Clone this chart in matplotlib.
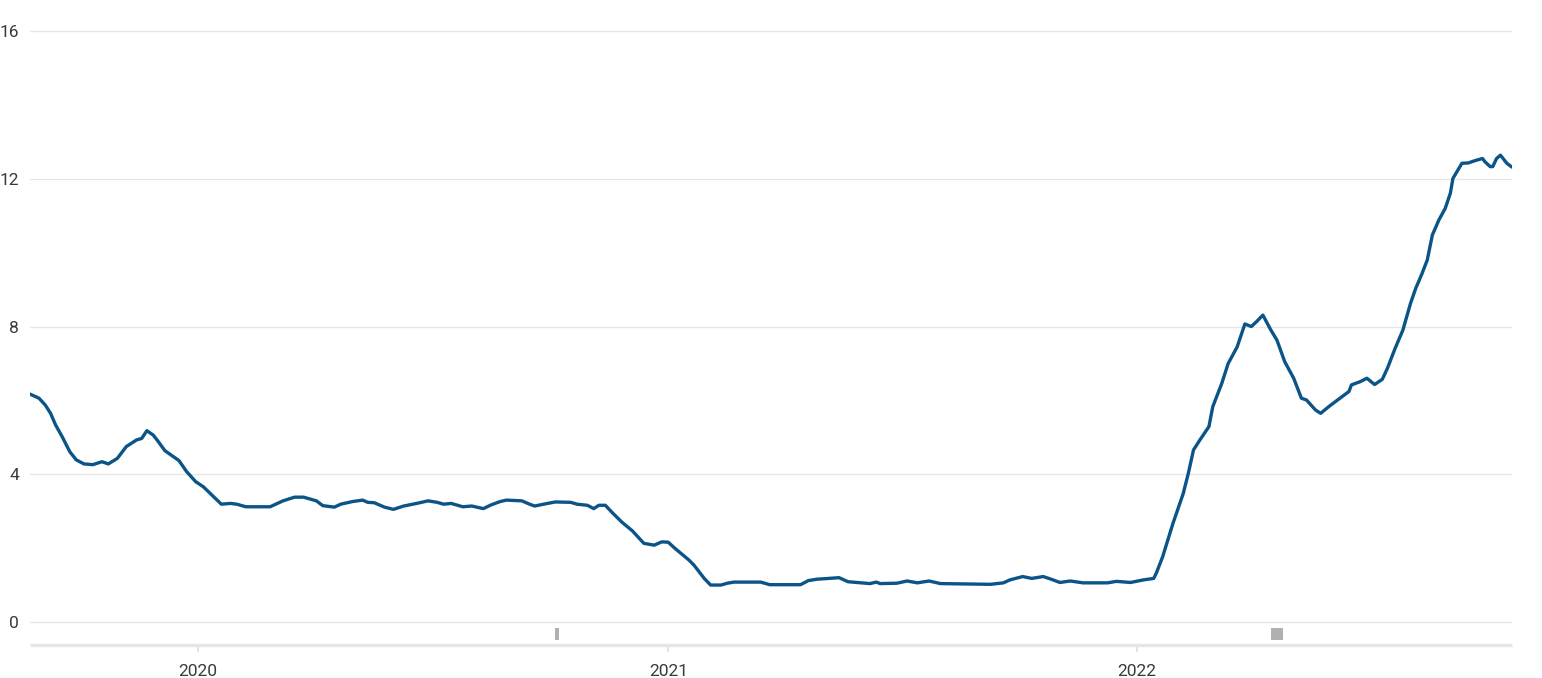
import numpy as np
import matplotlib
matplotlib.use("Agg")
import matplotlib.pyplot as plt
import matplotlib.dates as mdates

plt.rcParams['font.family'] = ['Roboto', 'DejaVu Sans']

# series (date, value)
dates = [
    "2019-08-23", "2019-08-30", "2019-09-04", "2019-09-08", "2019-09-12", "2019-09-17",
    "2019-09-23", "2019-09-28", "2019-10-04", "2019-10-11", "2019-10-18", "2019-10-23",
    "2019-10-30", "2019-11-06", "2019-11-14", "2019-11-18", "2019-11-22", "2019-11-27",
    "2019-12-01", "2019-12-06", "2019-12-13", "2019-12-17", "2019-12-23", "2019-12-30",
    "2020-01-05", "2020-01-13", "2020-01-19", "2020-01-26", "2020-01-31", "2020-02-07",
    "2020-02-16", "2020-02-26", "2020-03-07", "2020-03-16", "2020-03-23", "2020-04-02",
    "2020-04-07", "2020-04-16", "2020-04-21", "2020-04-30", "2020-05-08", "2020-05-12",
    "2020-05-17", "2020-05-25", "2020-06-01", "2020-06-09", "2020-06-19", "2020-06-28",
    "2020-07-05", "2020-07-10", "2020-07-16", "2020-07-25", "2020-08-01", "2020-08-10",
    "2020-08-16", "2020-08-23", "2020-08-28", "2020-09-09", "2020-09-15", "2020-09-19",
    "2020-09-26", "2020-10-05", "2020-10-17", "2020-10-22", "2020-10-30", "2020-11-04",
    "2020-11-08", "2020-11-13", "2020-11-19", "2020-11-26", "2020-12-04", "2020-12-13",
    "2020-12-21", "2020-12-27", "2021-01-01", "2021-01-06", "2021-01-17", "2021-01-21",
    "2021-01-29", "2021-02-03", "2021-02-11", "2021-02-16", "2021-02-21", "2021-03-14",
    "2021-03-21", "2021-04-14", "2021-04-20", "2021-04-27", "2021-05-02", "2021-05-14",
    "2021-05-21", "2021-05-31", "2021-06-07", "2021-06-12", "2021-06-15", "2021-06-28",
    "2021-07-06", "2021-07-14", "2021-07-23", "2021-08-01", "2021-08-19", "2021-09-09",
    "2021-09-19", "2021-09-24", "2021-10-04", "2021-10-11", "2021-10-20", "2021-10-26",
    "2021-11-02", "2021-11-10", "2021-11-20", "2021-12-09", "2021-12-16", "2021-12-27",
    "2022-01-06", "2022-01-14", "2022-01-16", "2022-01-21", "2022-01-29", "2022-02-06",
    "2022-02-10", "2022-02-14", "2022-02-19", "2022-02-26", "2022-03-01", "2022-03-08",
    "2022-03-13", "2022-03-20", "2022-03-26", "2022-03-31", "2022-04-04", "2022-04-09",
    "2022-04-15", "2022-04-20", "2022-04-26", "2022-05-03", "2022-05-09", "2022-05-13",
    "2022-05-20", "2022-05-24", "2022-05-31", "2022-06-08", "2022-06-15", "2022-06-17",
    "2022-06-24", "2022-06-29", "2022-07-05", "2022-07-11", "2022-07-15", "2022-07-21",
    "2022-07-27", "2022-08-02", "2022-08-06", "2022-08-11", "2022-08-15", "2022-08-19",
    "2022-08-24", "2022-08-29", "2022-09-02", "2022-09-04", "2022-09-11", "2022-09-16",
    "2022-09-21", "2022-09-27", "2022-09-29", "2022-10-03", "2022-10-05", "2022-10-08",
    "2022-10-11", "2022-10-16", "2022-10-19", "2022-10-20",
]
values = [
    6.17, 6.06, 5.87, 5.65, 5.33, 5.02,
    4.61, 4.39, 4.28, 4.26, 4.34, 4.28,
    4.43, 4.75, 4.93, 4.97, 5.18, 5.06,
    4.88, 4.64, 4.47, 4.37, 4.07, 3.80,
    3.66, 3.39, 3.19, 3.21, 3.19, 3.12,
    3.12, 3.12, 3.28, 3.38, 3.38, 3.28,
    3.15, 3.11, 3.19, 3.26, 3.30, 3.24,
    3.23, 3.11, 3.05, 3.14, 3.21, 3.28,
    3.24, 3.19, 3.21, 3.12, 3.14, 3.07,
    3.17, 3.26, 3.30, 3.28, 3.19, 3.14,
    3.19, 3.25, 3.24, 3.19, 3.16, 3.07,
    3.16, 3.16, 2.94, 2.70, 2.47, 2.13,
    2.08, 2.17, 2.16, 2.00, 1.68, 1.54,
    1.18, 1.00, 1.00, 1.05, 1.08, 1.08,
    1.01, 1.01, 1.12, 1.16, 1.17, 1.20,
    1.09, 1.06, 1.04, 1.08, 1.04, 1.05,
    1.11, 1.06, 1.11, 1.04, 1.03, 1.02,
    1.06, 1.14, 1.23, 1.18, 1.23, 1.16,
    1.07, 1.11, 1.06, 1.06, 1.10, 1.07,
    1.14, 1.18, 1.32, 1.77, 2.67, 3.48,
    4.03, 4.66, 4.93, 5.29, 5.83, 6.46,
    7.00, 7.45, 8.07, 8.00, 8.13, 8.31,
    7.92, 7.63, 7.05, 6.60, 6.06, 6.01,
    5.74, 5.65, 5.85, 6.06, 6.24, 6.42,
    6.51, 6.60, 6.43, 6.57, 6.87, 7.41,
    7.90, 8.63, 9.03, 9.44, 9.80, 10.48,
    10.88, 11.20, 11.61, 12.01, 12.42, 12.43,
    12.49, 12.55, 12.46, 12.33, 12.33, 12.55,
    12.64, 12.42, 12.34, 12.32,
]

# small event markers under the line
event_starts = ["2020-10-05", "2022-04-15"]
event_days = [3, 10]

yticks = [0, 4, 8, 12, 16]
years = ["2020-01-01", "2021-01-01", "2022-01-01"]
year_labels = ["2020", "2021", "2022"]

x = np.array(dates, dtype="datetime64[D]")
y = np.array(values)

fig = plt.figure(figsize=(15.42, 6.78), dpi=100)
ax = fig.add_axes([30/1542, 33/678, 1482/1542, 625/678])

for t in yticks:
    ax.axhline(t, color="#e6e6e6", lw=0.9, zorder=1)

ax.plot(x, y, color="#0a5487", lw=2.4, solid_joinstyle="round", zorder=3)

ev_x = np.array(event_starts, dtype="datetime64[D]")
ax.bar(ev_x, 0.32, width=event_days, bottom=-0.49, align="edge",
       color="#b0b0b0", zorder=2)

ax.set_xlim(mdates.date2num(np.datetime64("2019-08-23")),
            mdates.date2num(np.datetime64("2022-10-20")))
ax.set_ylim(-0.623, 16.3)

ax.set_yticks(yticks)
ax.set_yticklabels([str(t) for t in yticks])
ax.set_xticks(mdates.date2num(np.array(years, dtype="datetime64[D]")))
ax.set_xticklabels(year_labels)

for s in ["top", "right", "left"]:
    ax.spines[s].set_visible(False)
ax.spines["bottom"].set_color("#e6e6e6")
ax.spines["bottom"].set_linewidth(2.4)
ax.spines["bottom"].set_capstyle("butt")

ax.tick_params(axis="y", length=0, pad=8, labelsize=12.5, labelcolor="#3a3a3a")
ax.tick_params(axis="x", length=5, width=1.2, color="#dddddd", pad=9,
               labelsize=12.5, labelcolor="#3a3a3a")

fig.savefig("out.png", dpi=100, facecolor="white")
